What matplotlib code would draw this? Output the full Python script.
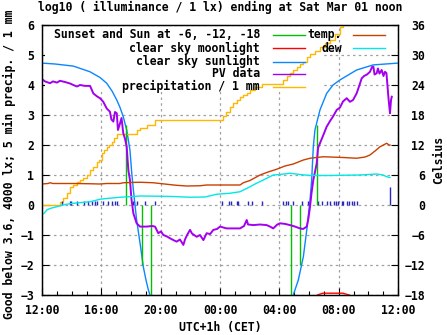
import matplotlib
matplotlib.use("Agg")
import matplotlib.pyplot as plt
from matplotlib.lines import Line2D
from matplotlib.patches import Rectangle
import numpy as np

# ---------------- data (hours since 12:00) ----------------
tick_hours = [0, 4, 8, 12, 16, 20, 24]
tick_labels = ["12:00", "16:00", "20:00", "00:00", "04:00", "08:00", "12:00"]

sun_t = [0, 0.88, 2.11, 3.24, 3.91, 4.36, 4.72, 5.04, 5.26, 5.48, 5.71, 5.93, 6.05, 6.16,
         6.38, 6.61, 6.83, 7.01, 7.17, 7.28, 7.42,
         16.79, 16.94, 17.28, 17.62, 17.85, 18.07, 18.18, 18.29, 18.40, 18.74, 19.19,
         19.62, 20.09, 21.21, 22.33, 24.0]
sun_v = [4.73, 4.70, 4.63, 4.44, 4.25, 4.06, 3.80, 3.50, 3.25, 2.94, 2.50, 1.83, 1.07, 0.50,
         -0.50, -1.27, -2.06, -2.50, -2.83, -3.0, -3.3,
         -3.3, -3.0, -2.5, -1.72, -0.83, 0.17, 0.83, 1.94, 2.5, 3.17, 3.72,
         4.0, 4.17, 4.5, 4.67, 4.73]
sun_gap_after = 7.42  # no sunlight curve during the night

pv_t = [0, 0.20, 0.54, 0.74, 1.01, 1.21, 1.55, 1.89, 2.11, 2.36, 2.56, 2.90, 3.24, 3.46,
        3.71, 3.91, 4.13, 4.36, 4.58, 4.68, 4.81, 4.92, 5.04, 5.12, 5.26, 5.36, 5.48,
        5.60, 5.71, 5.82, 5.93, 6.03, 6.16, 6.38, 6.61, 7.06, 7.42, 7.62, 7.84, 8.02,
        8.18, 8.43, 8.63, 8.90, 9.08, 9.30, 9.53, 9.64, 9.78, 9.98, 10.11, 10.43, 10.65,
        10.88, 11.10, 11.33, 11.55, 11.80, 12.00, 12.45, 13.01, 13.35, 13.62, 13.80,
        13.89, 14.25, 14.70, 15.15, 15.37, 15.59, 15.84, 16.04, 16.38, 16.72, 17.06,
        17.39, 17.60, 17.85, 17.96, 18.07, 18.17, 18.29, 18.52, 18.61, 18.74, 18.94,
        19.19, 19.42, 19.62, 19.87, 20.09, 20.29, 20.54, 20.76, 20.97, 21.21, 21.37,
        21.55, 21.71, 21.91, 22.11, 22.25, 22.34, 22.42, 22.56, 22.65, 22.75, 22.90,
        23.02, 23.12, 23.22, 23.35, 23.41, 23.46, 23.53, 23.58]
pv_v = [4.20, 4.12, 4.06, 4.12, 4.08, 4.14, 4.10, 4.05, 4.00, 3.95, 4.00, 3.97, 3.97, 3.72,
        3.62, 3.56, 3.44, 3.22, 3.11, 2.85, 2.78, 3.10, 3.06, 2.50, 2.72, 2.90, 2.39,
        2.20, 1.94, 1.17, 0.83, 0.20, -0.28, -0.61, -0.72, -0.72, -0.70, -0.72, -0.94, -0.88,
        -1.00, -1.05, -1.11, -1.18, -1.22, -1.15, -1.33, -1.15, -1.00, -0.83, -0.95, -1.06, -1.00,
        -1.17, -0.94, -0.97, -0.83, -0.80, -0.72, -0.78, -0.78, -0.78, -0.70, -0.50,
        -0.65, -0.67, -0.65, -0.67, -0.72, -0.78, -0.66, -0.61, -0.63, -0.67, -0.72,
        -0.78, -0.80, -0.72, -0.45, -0.05, 0.40, 0.83, 1.39, 1.90, 2.06, 2.30,
        2.61, 2.80, 2.95, 3.17, 3.25, 3.45, 3.56, 3.44, 3.50, 3.72, 3.95,
        4.22, 4.30, 4.35, 4.44, 4.60, 4.61, 4.35, 4.39, 4.55, 4.38, 4.50,
        4.30, 4.44, 4.40, 3.61, 3.30, 3.06, 3.50, 3.61]

temp_t = [0, 0.40, 0.54, 0.74, 0.99, 2.11, 3.24, 3.91, 4.36, 5.26, 5.48, 5.93, 6.61, 7.50,
          7.96, 8.41, 9.03, 9.75, 10.65, 11.10, 13.35, 13.57, 14.02, 14.70, 15.24, 15.82,
          16.38, 16.94, 17.62, 18.07, 18.96, 20.31, 21.21, 21.78, 22.11, 22.45, 22.79,
          23.24, 23.39, 23.46]
temp_c = [4.2, 4.3, 4.45, 4.3, 4.3, 4.3, 4.25, 4.2, 4.3, 4.3, 4.45, 4.5, 4.55, 4.45,
          4.3, 4.15, 3.95, 3.8, 3.85, 4.0, 4.0, 4.45, 4.9, 6.0, 6.6, 7.15,
          7.8, 8.2, 9.0, 9.35, 9.65, 9.5, 9.35, 9.6, 10.0, 10.8, 11.65,
          12.35, 12.0, 12.0]

dew_t = [0, 0.13, 0.32, 0.54, 0.99, 1.55, 2.11, 3.24, 3.91, 4.36, 5.26, 6.61, 7.96, 8.85,
         9.98, 10.99, 11.78, 12.00, 12.67, 13.35, 14.02, 14.43, 14.92, 15.59, 16.04, 16.72,
         17.39, 18.07, 19.42, 20.31, 21.44, 22.56, 22.99, 23.24, 23.46]
dew_c = [-1.8, -1.7, -1.0, -0.7, -0.35, 0.1, 0.35, 0.65, 1.15, 1.3, 1.55, 1.8, 1.75, 1.7,
         1.55, 1.6, 2.15, 2.2, 2.35, 2.65, 3.65, 4.3, 5.0, 6.0, 6.1, 6.35,
         6.1, 5.9, 5.9, 5.95, 6.0, 6.2, 6.0, 5.65, 5.5]

precip_t = [0, 1.21, 1.44, 1.67, 1.89, 2.11, 2.34, 2.56, 2.78, 3.01, 3.24, 3.46, 3.69, 3.81,
            4.02, 4.18, 4.36, 4.52, 4.70, 4.85, 5.04, 6.40, 6.61, 7.06, 7.62, 12.22, 12.40,
            12.67, 12.88, 13.13, 13.35, 13.57, 13.82, 14.02, 14.36, 14.81, 16.27, 16.50,
            16.72, 16.92, 17.17, 17.39, 17.62, 17.85, 18.07, 18.40, 18.74, 19.08, 19.42,
            19.75, 20.09, 20.29]
precip_mm = [0, 0.11, 0.22, 0.39, 0.61, 0.67, 0.78, 0.83, 0.89, 1.00, 1.17, 1.28, 1.44, 1.50,
             1.72, 1.83, 1.94, 2.00, 2.11, 2.25, 2.37, 2.50, 2.58, 2.67, 2.83, 2.97, 3.10,
             3.28, 3.40, 3.50, 3.60, 3.67, 3.75, 3.83, 3.95, 4.03, 4.17, 4.30,
             4.39, 4.50, 4.61, 4.70, 4.78, 4.94, 5.03, 5.15, 5.28, 5.40, 5.50,
             5.70, 5.94, 6.10]

rain5_t = [1.33, 1.89, 1.96, 2.38, 2.85, 3.12, 3.35, 3.57, 3.69, 4.09, 4.47, 4.70, 4.92, 5.08,
           6.16, 6.42, 6.96, 7.62, 12.11, 12.63, 12.72, 13.13, 13.23, 13.91, 14.14, 14.81,
           16.27, 16.45, 16.60, 16.94, 17.51, 17.95, 18.63, 18.86, 19.19, 19.42, 19.69,
           19.82, 19.98, 20.20, 20.31, 20.54, 20.72, 20.88, 21.03, 21.22, 23.46]
rain5_mm = [0.13] * 46 + [0.61]

sunev_t = [5.64, 6.76, 7.37, 16.79, 17.41, 18.57]
sunev_top = [2.67, -2.0, -4.0, -4.0, -2.0, 2.67]

moon_t = [18.40, 18.56, 18.81, 18.94, 20.29, 20.49, 20.72, 20.90]
moon_v = [-3.1, -3.0, -2.96, -2.94, -2.94, -2.97, -3.0, -3.1]

# ---------------- style ----------------
FONT = "DejaVu Sans Mono"
FS = 8.3
C_GREEN = "#00c000"
C_RED = "#ff0000"
C_BLUE = "#0a86ff"
C_PURPLE = "#a400f0"
C_GOLD = "#ffb800"
C_TEMP = "#c84000"
C_DEW = "#00e8e8"
C_RAIN = "#2828c0"

plt.rcParams["font.family"] = [FONT]
plt.rcParams["font.weight"] = "bold"
plt.rcParams["font.size"] = FS

fig = plt.figure(figsize=(4.47, 3.35), dpi=100)
ax = fig.add_axes([42 / 447, 40 / 335, 356 / 447, 270 / 335])
ax2 = ax.twinx()

ax.set_xlim(0, 24)
ax.set_ylim(-3, 6)
ax2.set_ylim(-18, 36)

ax.set_axisbelow(True)
grid_kw = dict(color="#a0a0a0", linestyle=(0, (2.0, 2.6)), linewidth=0.9)
ax.grid(True, which="major", **grid_kw)

# key background box (hides the grid behind the key texts)
ax.add_patch(Rectangle((0.008, 0.752), 0.775, 0.24, transform=ax.transAxes,
                       facecolor="white", edgecolor="none", zorder=1))

# sun curve split in two pieces
sun_t_arr = np.array(sun_t)
sun_v_arr = np.array(sun_v)
m1 = sun_t_arr <= sun_gap_after
ax.plot(sun_t_arr[m1], sun_v_arr[m1], color=C_BLUE, lw=1.0, zorder=3)
ax.plot(sun_t_arr[~m1], sun_v_arr[~m1], color=C_BLUE, lw=1.0, zorder=3)

ax.plot(precip_t, precip_mm, color=C_GOLD, lw=1.0, drawstyle="steps-post", zorder=3)
ax.vlines(rain5_t, 0, rain5_mm, color=C_RAIN, lw=1.0, zorder=3)
ax.vlines(sunev_t, 0, sunev_top, color=C_GREEN, lw=1.0, zorder=4)
ax.plot(moon_t, moon_v, color=C_RED, lw=1.0, zorder=3)
ax.plot(pv_t, pv_v, color=C_PURPLE, lw=1.4, zorder=5)

ax2.plot(temp_t, temp_c, color=C_TEMP, lw=1.0)
ax2.plot(dew_t, dew_c, color=C_DEW, lw=1.0)

# ticks
ax.set_xticks(tick_hours)
ax.set_xticklabels(tick_labels)
ax.set_xticks(np.arange(0, 25, 1), minor=True)
ax.set_yticks(np.arange(-3, 7, 1))
ax2.set_yticks(np.arange(-18, 37, 6))
ax.tick_params(axis="x", which="major", direction="in", length=5, width=0.8, pad=6.5, top=False)
ax.tick_params(axis="x", which="minor", direction="in", length=3, width=0.8, top=False)
ax.tick_params(axis="y", which="major", direction="in", length=5, width=0.8, pad=5.5, right=False)
ax2.tick_params(axis="y", direction="in", length=5, width=0.8, pad=19.5)
for t in ax2.get_yticklabels():
    t.set_ha("right")
for a in (ax, ax2):
    for s in a.spines.values():
        s.set_linewidth(0.9)

ax.set_title("log10 ( illuminance / 1 lx) ending at Sat Mar 01 noon", fontsize=FS,
             fontweight="bold", pad=10)
fig.text(9 / 447, 1 - 164 / 335, "Good below 3.6, 4000 lx; 5 min precip. / 1 mm",
         rotation=90, ha="center", va="center", fontsize=FS, fontweight="bold")
fig.text(439 / 447, 1 - 160 / 335, "Celsius", rotation=90, ha="center", va="center",
         fontsize=FS, fontweight="bold")
fig.text(220 / 447, 1 - 327 / 335, "UTC+1h (CET)", ha="center", va="center",
         fontsize=FS, fontweight="bold")

# legend (gnuplot style: right aligned text, sample to the right)
leg_rows_y = [0.963, 0.914, 0.864, 0.819, 0.772]
left_items = [("Sunset and Sun at -6, -12, -18", C_GREEN), ("clear sky moonlight", C_RED),
              ("clear sky sunlight", C_BLUE), ("PV data", C_PURPLE),
              ("precipitation / 1 mm", C_GOLD)]
right_items = [("temp.", C_TEMP), ("dew", C_DEW)]
for (lab, col), yy in zip(left_items, leg_rows_y):
    ax2.text(0.612, yy, lab, transform=ax2.transAxes, ha="right", va="center",
             fontsize=FS, fontweight="bold", zorder=10)
    ax2.add_line(Line2D([0.649, 0.739], [yy, yy], transform=ax2.transAxes, color=col, lw=1.0, zorder=10))
for (lab, col), yy in zip(right_items, leg_rows_y):
    ax2.text(0.843, yy, lab, transform=ax2.transAxes, ha="right", va="center",
             fontsize=FS, fontweight="bold", zorder=10)
    ax2.add_line(Line2D([0.874, 0.963], [yy, yy], transform=ax2.transAxes, color=col, lw=1.0, zorder=10))

fig.savefig("out.png", dpi=100)
